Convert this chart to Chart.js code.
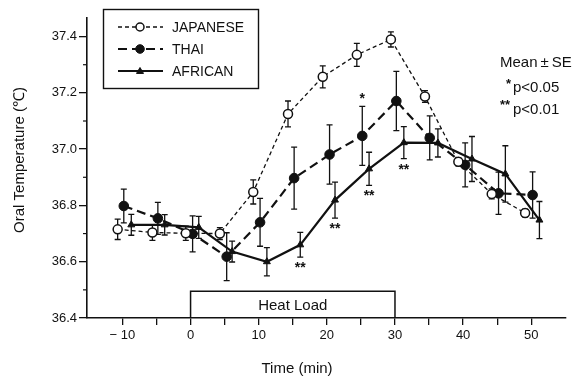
<!DOCTYPE html>
<html>
<head>
<meta charset="utf-8">
<script src="https://cdn.jsdelivr.net/npm/chart.js@4.4.1/dist/chart.umd.min.js"></script>
<style>
  html, body { margin: 0; padding: 0; background: #fff; }
  #wrap { width: 572px; height: 383px; position: relative; overflow: hidden; }
</style>
</head>
<body>
<div id="wrap"><canvas id="c" width="572" height="383"></canvas></div>
<script>
// Oral temperature before, during and after a 30-min heat load (mean ± SE)
const japaneseTime = [-10.7, -5.6, -0.7, 4.3, 9.2, 14.3, 19.4, 24.4, 29.4, 34.4, 39.3, 44.2, 49.1];
const japaneseTemp = [36.715, 36.704, 36.701, 36.700, 36.848, 37.125, 37.257, 37.335, 37.390, 37.187, 36.955, 36.841, 36.773];
const japaneseSE   = [0.036, 0.028, 0.025, 0.021, 0.043, 0.046, 0.039, 0.041, 0.027, 0.021, 0.014, 0.018, 0.014];

const thaiTime = [-9.8, -4.8, 0.3, 5.3, 10.2, 15.2, 20.4, 25.2, 30.2, 35.1, 40.3, 45.2, 50.2];
const thaiTemp = [36.798, 36.754, 36.699, 36.618, 36.740, 36.897, 36.981, 37.047, 37.171, 37.040, 36.944, 36.843, 36.837];
const thaiSE   = [0.060, 0.057, 0.064, 0.085, 0.085, 0.110, 0.105, 0.105, 0.105, 0.078, 0.078, 0.075, 0.082];

const africanTime = [-8.7, -3.8, 1.2, 6.1, 11.2, 16.1, 21.2, 26.2, 31.3, 36.3, 41.3, 46.2, 51.2];
const africanTemp = [36.731, 36.731, 36.722, 36.636, 36.600, 36.660, 36.819, 36.930, 37.023, 37.022, 36.965, 36.912, 36.748];
const africanSE   = [0.037, 0.036, 0.039, 0.037, 0.050, 0.044, 0.064, 0.059, 0.057, 0.050, 0.080, 0.100, 0.066];

// significance markers (point indices)
const thaiP05    = [7];
const africanP01 = [5, 6, 7, 8];

// heat load period (min)
const heatLoad = [0, 30];

const seriesNames = ['JAPANESE', 'THAI', 'AFRICAN'];
const yTickLabels = ['36.4', '36.6', '36.8', '37.0', '37.2', '37.4'];
const xTickLabels = ['\u2212 10', '0', '10', '20', '30', '40', '50'];

const FONT = '"Liberation Sans", Arial, Helvetica, sans-serif';
const INK = '#111';

const toPoints = (t, v) => t.map((x, i) => ({ x: x, y: v[i] }));

const styles = [
  { borderWidth: 1.3, borderDash: [4, 3], pointStyle: 'circle', pointRadius: 4.5, pointBackgroundColor: '#fff', pointBorderWidth: 1.5 },
  { borderWidth: 2.2, borderDash: [9, 5], pointStyle: 'circle', pointRadius: 4.8, pointBackgroundColor: INK, pointBorderWidth: 1 },
  { borderWidth: 2.2, borderDash: [], pointStyle: 'triangle', pointRadius: 4, pointBackgroundColor: INK, pointBorderWidth: 1 }
];

const seData = [japaneseSE, thaiSE, africanSE];

const errorBars = {
  id: 'errorBars',
  beforeDatasetsDraw(chart) {
    const ctx = chart.ctx, xs = chart.scales.x, ys = chart.scales.y;
    ctx.save();
    ctx.strokeStyle = INK;
    ctx.lineWidth = 1.3;
    chart.data.datasets.forEach((ds, d) => {
      ds.data.forEach((p, i) => {
        const se = seData[d][i];
        const x = xs.getPixelForValue(p.x);
        const yt = ys.getPixelForValue(p.y + se);
        const yb = ys.getPixelForValue(p.y - se);
        ctx.beginPath();
        ctx.moveTo(x, yt); ctx.lineTo(x, yb);
        ctx.moveTo(x - 3, yt); ctx.lineTo(x + 3, yt);
        ctx.moveTo(x - 3, yb); ctx.lineTo(x + 3, yb);
        ctx.stroke();
      });
    });
    // heat load box
    const x0 = xs.getPixelForValue(heatLoad[0]);
    const x1 = xs.getPixelForValue(heatLoad[1]);
    const yTop = ys.getPixelForValue(36.495);
    const yBot = chart.chartArea.bottom;
    ctx.lineWidth = 1.5;
    ctx.beginPath();
    ctx.moveTo(x0, yBot); ctx.lineTo(x0, yTop); ctx.lineTo(x1, yTop); ctx.lineTo(x1, yBot);
    ctx.stroke();
    ctx.fillStyle = INK;
    ctx.font = '15px ' + FONT;
    ctx.textAlign = 'center';
    ctx.textBaseline = 'middle';
    ctx.fillText('Heat Load', (x0 + x1) / 2, (yTop + yBot) / 2 + 1);
    ctx.restore();
  },
  afterDatasetsDraw(chart) {
    const ctx = chart.ctx, xs = chart.scales.x, ys = chart.scales.y;
    ctx.save();
    ctx.fillStyle = INK;
    ctx.font = 'bold 14px ' + FONT;
    ctx.textAlign = 'center';
    ctx.textBaseline = 'middle';
    africanP01.forEach(i => {
      const yb = ys.getPixelForValue(africanTemp[i] - africanSE[i]);
      ctx.fillText('**', xs.getPixelForValue(africanTime[i]), yb + 11);
    });
    thaiP05.forEach(i => {
      ctx.fillText('*', xs.getPixelForValue(thaiTime[i]), ys.getPixelForValue(thaiTemp[i] + thaiSE[i]) - 7);
    });
    ctx.restore();
  },
  afterDraw(chart) {
    const ctx = chart.ctx, ys = chart.scales.y, area = chart.chartArea;
    ctx.save();
    ctx.strokeStyle = INK;
    ctx.fillStyle = INK;
    // minor ticks on the temperature axis
    ctx.lineWidth = 1.2;
    ys.ticks.forEach(t => {
      if (Math.round(t.value * 10) % 2 !== 0) {
        const y = ys.getPixelForValue(t.value);
        ctx.beginPath(); ctx.moveTo(area.left - 4, y); ctx.lineTo(area.left, y); ctx.stroke();
      }
    });
    // axis titles
    ctx.font = '15px ' + FONT;
    ctx.textAlign = 'center';
    ctx.textBaseline = 'middle';
    ctx.fillText('Time (min)', 297, 369);
    ctx.save();
    ctx.translate(20, 160);
    ctx.rotate(-Math.PI / 2);
    ctx.font = '15px ' + FONT;
    ctx.fillText('Oral Temperature (\u2103)', 0, 0);
    ctx.restore();
    // legend
    ctx.lineWidth = 1.4;
    ctx.strokeRect(103.5, 9.5, 155, 79);
    const rows = [27, 49, 71];
    chart.data.datasets.forEach((ds, d) => {
      const y = rows[d];
      ctx.save();
      ctx.lineWidth = ds.borderWidth;
      ctx.setLineDash(ds.borderDash);
      ctx.beginPath(); ctx.moveTo(118, y); ctx.lineTo(163, y); ctx.stroke();
      ctx.restore();
      ctx.save();
      ctx.fillStyle = ds.pointBackgroundColor;
      ctx.strokeStyle = INK;
      ctx.lineWidth = ds.pointBorderWidth;
      ctx.beginPath();
      const r = ds.pointRadius - 0.5;
      if (ds.pointStyle === 'circle') {
        ctx.arc(140, y, r, 0, Math.PI * 2);
      } else {
        ctx.moveTo(140, y - r); ctx.lineTo(140 + r, y + r * 0.7); ctx.lineTo(140 - r, y + r * 0.7); ctx.closePath();
      }
      ctx.fill(); ctx.stroke();
      ctx.restore();
      ctx.fillStyle = INK;
      ctx.font = '14px ' + FONT;
      ctx.textAlign = 'left';
      ctx.fillText(seriesNames[d], 172, y + 1);
    });
    // statistics note
    ctx.font = '15px ' + FONT;
    ctx.textAlign = 'left';
    ctx.fillText('Mean\u2009\u00b1\u2009SE', 500, 63);
    ctx.fillText('p<0.05', 513, 88);
    ctx.fillText('p<0.01', 513, 110);
    ctx.font = 'bold 13px ' + FONT;
    ctx.fillText('*', 506, 84);
    ctx.fillText('**', 500, 105);
    ctx.restore();
  }
};

new Chart(document.getElementById('c'), {
  type: 'line',
  data: {
    datasets: [
      Object.assign({ label: seriesNames[0], data: toPoints(japaneseTime, japaneseTemp) }, styles[0]),
      Object.assign({ label: seriesNames[1], data: toPoints(thaiTime, thaiTemp) }, styles[1]),
      Object.assign({ label: seriesNames[2], data: toPoints(africanTime, africanTemp) }, styles[2])
    ].map(ds => Object.assign(ds, { borderColor: INK, pointBorderColor: INK, tension: 0, fill: false }))
  },
  options: {
    responsive: false,
    animation: false,
    devicePixelRatio: 1,
    layout: { padding: { top: 18, right: 0, left: 0, bottom: 0 } },
    plugins: { legend: { display: false }, tooltip: { enabled: false } },
    scales: {
      x: {
        type: 'linear', min: -15.2, max: 55.1,
        afterBuildTicks: ax => { ax.ticks = ax.ticks.filter(t => t.value >= -10 && Math.abs(t.value / 5 - Math.round(t.value / 5)) < 1e-6); },
        afterFit: s => { s.height = 65; },
        ticks: {
          stepSize: 5, autoSkip: false, maxRotation: 0, padding: 3, color: INK,
          font: { family: FONT, size: 13 },
          callback: v => (Math.round(v) % 10 === 0 && v >= -10 && v <= 50) ? xTickLabels[(Math.round(v) + 10) / 10] : ''
        },
        grid: { drawOnChartArea: false, drawTicks: true, tickLength: 7, color: INK, lineWidth: 1.3 },
        border: { display: true, color: INK, width: 1.6 }
      },
      y: {
        type: 'linear', min: 36.4, max: 37.466,
        afterBuildTicks: ax => { ax.ticks = ax.ticks.filter(t => t.value <= 37.401); },
        afterFit: s => { s.width = 87; },
        ticks: {
          stepSize: 0.1, autoSkip: false, padding: 2, color: INK,
          font: { family: FONT, size: 13 },
          callback: v => { const k = Math.round(v * 10); return k % 2 === 0 ? yTickLabels[(k - 364) / 2] : ''; }
        },
        grid: {
          drawOnChartArea: false, drawTicks: true, tickLength: 8, lineWidth: 1.3,
          color: c => (c.tick && Math.round(c.tick.value * 10) % 2 !== 0) ? 'rgba(0,0,0,0)' : INK
        },
        border: { display: true, color: INK, width: 1.6 }
      }
    }
  },
  plugins: [errorBars]
});
</script>
</body>
</html>
